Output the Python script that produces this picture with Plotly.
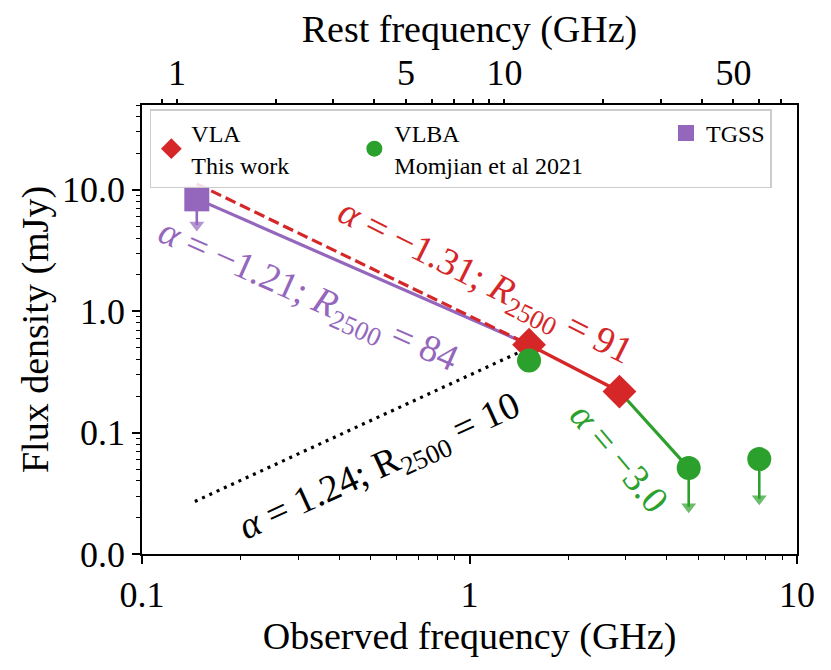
import numpy as np
import plotly.graph_objects as go

# ---------------- data ----------------
z_source = 6.82  # redshift used for rest-frame axis

vla_freq = [1.52, 2.87]          # GHz (observed)
vla_flux = [0.53, 0.218]         # mJy

vlba_freq = [1.52, 4.67, 7.67]   # GHz
vlba_flux = [0.393, 0.051, 0.0605]
vlba_uplim = [False, True, True]
vlba_yerr = [0.0, 0.0265, 0.032]

tgss_freq = [0.147]
tgss_flux = [8.43]
tgss_yerr = [3.3]

# power-law segments (endpoints)
red_dash_freq = [0.147, 1.52]
red_dash_flux = [11.2, 0.53]
purple_freq = [0.147, 1.52]
purple_flux = [8.43, 0.53]
black_dot_freq = [0.145, 1.52]
black_dot_flux = [0.0271, 0.50]
green_freq = [2.87, 4.67]
green_flux = [0.218, 0.051]

# label texts
lab_red = "<i>α</i> = −1.31; <i>R</i><sub>2500</sub> = 91"
lab_purple = "<i>α</i> = −1.21; <i>R</i><sub>2500</sub> = 84"
lab_black = "<i>α</i> = 1.24; R<sub>2500</sub> = 10"
lab_green = "<i>α</i> = −3.0"
lab_pos_freq = [1.11, 0.321, 0.532, 2.88]
lab_pos_flux = [1.71, 1.31, 0.0513, 0.062]

x_ticks = [0.1, 1, 10]
x_ticktext = ["0.1", "1", "10"]
y_ticks = [0.01, 0.1, 1, 10]
y_ticktext = ["0.0", "0.1", "1.0", "10.0"]
rest_labels = {1: "1", 5: "5", 10: "10", 50: "50"}

RED = "#d62728"
GREEN = "#2ca02c"
PURPLE = "#9467bd"
FONT = "Liberation Serif"
NB = "\u00a0"

fig = go.Figure()

# lines
fig.add_trace(go.Scatter(x=black_dot_freq, y=black_dot_flux, mode="lines",
                         line=dict(color="black", width=3.2, dash="3px,5px"),
                         showlegend=False, hoverinfo="skip"))
fig.add_trace(go.Scatter(x=purple_freq, y=purple_flux, mode="lines",
                         line=dict(color=PURPLE, width=3.2),
                         showlegend=False, hoverinfo="skip"))
fig.add_trace(go.Scatter(x=red_dash_freq, y=red_dash_flux, mode="lines",
                         line=dict(color=RED, width=3.2, dash="11px,5px"),
                         showlegend=False, hoverinfo="skip"))
fig.add_trace(go.Scatter(x=vla_freq, y=vla_flux, mode="lines",
                         line=dict(color=RED, width=3.5),
                         showlegend=False, hoverinfo="skip"))
fig.add_trace(go.Scatter(x=green_freq, y=green_flux, mode="lines",
                         line=dict(color=GREEN, width=3.2),
                         showlegend=False, hoverinfo="skip"))


def add_arrow(f, s, err, color):
    tip = s - err
    fig.add_trace(go.Scatter(x=[f, f], y=[s, tip], mode="lines+markers",
                             line=dict(color=color, width=2.6),
                             marker=dict(symbol=["circle", "triangle-down"], size=[0, 13],
                                         color=color, line=dict(width=0)),
                             showlegend=False, hoverinfo="skip"))


add_arrow(tgss_freq[0], tgss_flux[0], tgss_yerr[0], PURPLE)
for f, s, u, e in zip(vlba_freq, vlba_flux, vlba_uplim, vlba_yerr):
    if u:
        add_arrow(f, s, e, GREEN)

# markers
fig.add_trace(go.Scatter(x=tgss_freq, y=tgss_flux, mode="markers", name="TGSS",
                         marker=dict(symbol="square", size=25, color=PURPLE),
                         legendrank=3))
fig.add_trace(go.Scatter(x=vla_freq, y=vla_flux, mode="markers",
                         name="VLA<br>This work" + NB * 10,
                         marker=dict(symbol="diamond", size=26, color=RED),
                         legendrank=1))
fig.add_trace(go.Scatter(x=vlba_freq, y=vlba_flux, mode="markers",
                         name="VLBA<br>Momjian et al 2021" + NB * 13,
                         marker=dict(symbol="circle", size=24, color=GREEN),
                         legendrank=2))

# invisible trace for top axis
fig.add_trace(go.Scatter(x=[1.0], y=[1.0], xaxis="x2", mode="markers",
                         marker=dict(opacity=0), showlegend=False, hoverinfo="skip"))

# labels
for txt, f, s, ang, col in zip([lab_red, lab_purple, lab_black, lab_green],
                               lab_pos_freq, lab_pos_flux,
                               [26.6, 24.0, -24.5, 50.0],
                               [RED, PURPLE, "black", GREEN]):
    fig.add_annotation(x=np.log10(f), y=np.log10(s), xref="x", yref="y", text=txt,
                       showarrow=False, textangle=ang,
                       font=dict(family=FONT, size=38, color=col))

minor_vals = [m * 10.0 ** d for d in range(-2, 2) for m in range(2, 10)]
x_minor = [v for v in minor_vals if 0.1 < v < 10]
y_minor = [v for v in minor_vals if 0.01 < v <= 50]
rest_vals = [0.9] + [m * 10.0 ** d for d in range(0, 2) for m in range(1, 10)]
rest_vals = [v for v in rest_vals if v <= 75]
rest_text = [rest_labels.get(int(round(v)), "") if abs(v - round(v)) < 1e-9 else "" for v in rest_vals]

axis_common = dict(showgrid=False, zeroline=False, showline=True, linecolor="black",
                   linewidth=1.5, ticks="outside", tickcolor="black", tickwidth=1.5,
                   tickfont=dict(family=FONT, size=36, color="black"))

fig.update_layout(
    width=831, height=670,
    margin=dict(l=134, r=42, t=97, b=124, autoexpand=False),
    paper_bgcolor="white", plot_bgcolor="white",
    font=dict(family=FONT, color="black"),
    xaxis=dict(type="log", range=[-1, 1], tickvals=x_ticks, ticktext=x_ticktext,
               ticklen=8, mirror=True,
               minor=dict(tickmode="array", tickvals=x_minor, ticks="outside", ticklen=4,
                          tickcolor="black", tickwidth=1.2),
               title=dict(text="Observed frequency (GHz)", font=dict(family=FONT, size=38),
                          standoff=8),
               **axis_common),
    yaxis=dict(type="log", range=[-2, np.log10(50)], tickvals=y_ticks, ticktext=y_ticktext,
               ticklen=8, mirror=True,
               minor=dict(tickmode="array", tickvals=y_minor, ticks="outside", ticklen=4,
                          tickcolor="black", tickwidth=1.2),
               title=dict(text="Flux density (mJy)", font=dict(family=FONT, size=38),
                          standoff=2),
               **axis_common),
    xaxis2=dict(type="log", overlaying="x", side="top", anchor="y",
                range=[np.log10(0.1 * (1 + z_source)), np.log10(10 * (1 + z_source))],
                tickmode="array", tickvals=rest_vals, ticktext=rest_text, ticklen=4,
                title=dict(text="Rest frequency (GHz)", font=dict(family=FONT, size=38),
                           standoff=4),
                **axis_common),
    legend=dict(orientation="h", x=0.012, y=0.99, xanchor="left", yanchor="top",
                bgcolor="rgba(255,255,255,0.85)", bordercolor="#cccccc", borderwidth=1.5,
                font=dict(family=FONT, size=24, color="black"),
                itemsizing="trace", valign="middle", tracegroupgap=0, itemwidth=30),
    showlegend=True,
)

fig.write_html("out.html")
